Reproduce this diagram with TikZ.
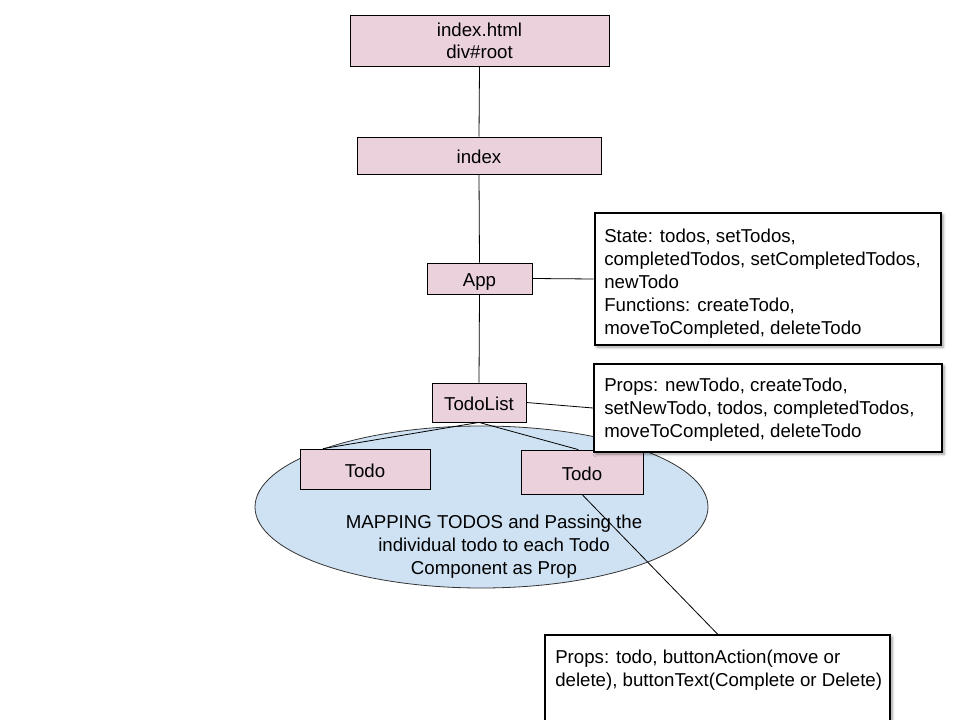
\documentclass[tikz,border=0pt]{standalone}
\usepackage{fontspec}
\setmainfont{Liberation Sans}
\usetikzlibrary{shapes.geometric,shadows.blur,calc}
\definecolor{pinkbox}{HTML}{EAD1DC}
\definecolor{bluefill}{HTML}{CFE2F3}
\begin{document}
\begin{tikzpicture}[x=0.75pt,y=-0.75pt,
  every node/.style={font=\fontsize{14}{16.5}\selectfont},
  comp/.style={draw=black,line width=0.6pt,fill=pinkbox,rectangle,inner sep=0pt,align=center},
  oneline/.style={text height=12.5pt,text depth=0pt},
  infobox/.style={draw=black,fill=white,rectangle,inner sep=0pt,
     blur shadow={shadow xshift=1.5pt,shadow yshift=-1.5pt,shadow blur steps=6,shadow opacity=40}},
  infotext/.style={anchor=north west,inner sep=0pt,align=left,font=\fontsize{14}{17.25}\selectfont},
  conn/.style={draw=black,line width=0.6pt}]
\useasboundingbox (0,0) rectangle (960,720);

% ellipse
\node[ellipse,draw=black!80,line width=0.6pt,fill=bluefill,minimum width=453*0.75pt,minimum height=162*0.75pt] (map) at (481.5,507) {};
\node[align=center,inner sep=0pt,font=\fontsize{14}{17.25}\selectfont] (maptext) at (494,547) {MAPPING TODOS and Passing the\\individual todo to each Todo\\Component as Prop};

% component boxes
\node[comp,minimum width=259*0.75pt,minimum height=51*0.75pt] (html) at (479.5,40.5) {index.html\\div\#root};
\node[comp,oneline,minimum width=244*0.75pt,minimum height=37*0.75pt] (idx) at (479,155.5) {index};
\node[comp,oneline,minimum width=105*0.75pt,minimum height=31*0.75pt] (app) at (479.5,278.5) {App};
\node[comp,oneline,minimum width=94*0.75pt,minimum height=39*0.75pt] (tl) at (479,402.5) {TodoList};
\node[comp,oneline,minimum width=130*0.75pt,minimum height=40*0.75pt] (t1) at (365,469) {Todo};
\node[comp,oneline,minimum width=122*0.75pt,minimum height=44*0.75pt] (t2) at (582,472) {Todo};

% info boxes
\node[infobox,line width=2.2pt,minimum width=346*0.75pt,minimum height=132*0.75pt] (state) at (768,279) {};
\node[infobox,line width=1.4pt,minimum width=348*0.75pt,minimum height=88*0.75pt] (props1) at (768,408) {};
\node[infobox,line width=1.4pt,minimum width=345*0.75pt,minimum height=95*0.75pt] (props2) at (717.5,682.5) {};

\node[infotext] (statetext) at (604,229) {State: todos, setTodos,\\completedTodos, setCompletedTodos,\\newTodo\\Functions: createTodo,\\moveToCompleted, deleteTodo};
\node[infotext] (props1text) at (604,378) {Props: newTodo, createTodo,\\setNewTodo, todos, completedTodos,\\moveToCompleted, deleteTodo};
\node[infotext] (props2text) at (555,650) {Props: todo, buttonAction(move or\\delete), buttonText(Complete or Delete)};

% connectors
\draw[conn] (html.south) -- (idx.north);
\draw[conn] (idx.south) -- (app.north);
\draw[conn] (app.south) -- (tl.north);
\draw[conn] (app.east) -- (state.west);
\draw[conn] (tl.east) -- (props1.west);
\draw[conn] (tl.south) -- ($(t1.north west)!0.18!(t1.north east)$);
\draw[conn] (tl.south) -- ($(t2.north west)!0.47!(t2.north east)$);
\draw[conn] (t2.south) -- (props2.north);
\end{tikzpicture}
\end{document}
